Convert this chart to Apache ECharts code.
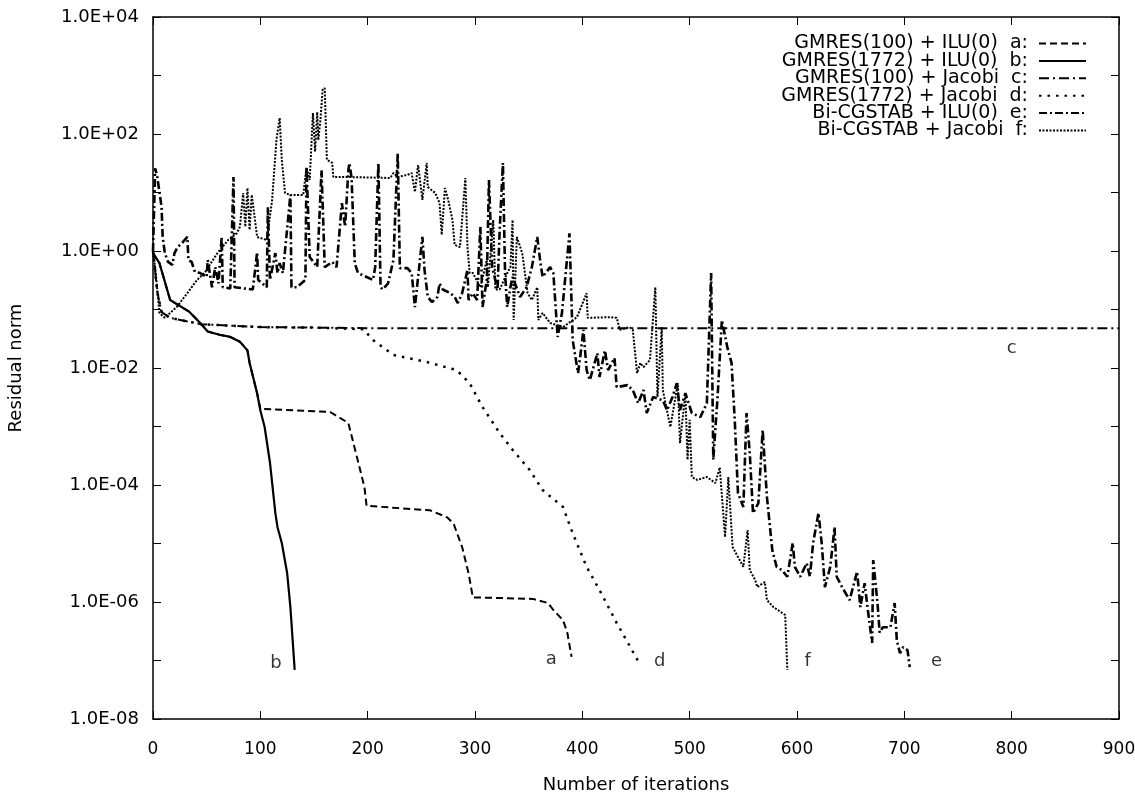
<!DOCTYPE html>
<html>
<head>
<meta charset="utf-8">
<script src="https://cdn.jsdelivr.net/npm/echarts@6/dist/echarts.min.js"></script>
<style>
  html, body { margin: 0; padding: 0; background: #fff; }
  #chart { width: 1135px; height: 799px; }
</style>
</head>
<body>
<div id="chart"></div>
<script>
// residual norm vs. iteration
const seriesNames = [
  'GMRES(100) + ILU(0)  a:',
  'GMRES(1772) + ILU(0)  b:',
  'GMRES(100) + Jacobi  c:',
  'GMRES(1772) + Jacobi  d:',
  'Bi-CGSTAB + ILU(0)  e:',
  'Bi-CGSTAB + Jacobi  f:'
]

// b: GMRES(1772) + ILU(0); a shares it until the restart at 100
const bData = [
  [0, 0.92], [6, 0.62], [16, 0.145], [34, 0.091], [44, 0.059], [51, 0.042],
  [62, 0.037], [72, 0.034], [81, 0.028], [88, 0.020], [90, 0.0122], [97, 0.0037],
  [100, 0.0019], [104, 9.8e-4], [109, 2.4e-4], [114, 3.3e-5], [116, 1.9e-5],
  [120, 1.02e-5], [125, 3.1e-6], [128, 8.2e-7], [132, 6.9e-8]
]
const aTail = [
  [100, 2.0e-3], [165, 1.77e-3], [182, 1.15e-3], [190, 3.0e-4], [197, 9.2e-5],
  [199, 4.4e-5], [258, 3.7e-5], [274, 2.8e-5], [280, 2.2e-5], [288, 8.7e-6],
  [294, 3.1e-6], [298, 1.2e-6], [323, 1.17e-6], [354, 1.13e-6], [368, 9.6e-7],
  [373, 7.3e-7], [382, 4.9e-7], [386, 3.0e-7], [390, 1.15e-7]
]
// c: GMRES(100) + Jacobi; d shares its start
const cData = [
  [0, 1.0], [4, 0.2], [8, 0.09], [16, 0.072], [45, 0.056], [100, 0.05],
  [200, 0.048], [900, 0.048]
]
const dTail = [
  [150, 0.049], [196, 0.046], [205, 0.030], [224, 0.0167], [255, 0.0127],
  [283, 0.0092], [295, 0.0055], [307, 0.00215], [323, 7.7e-4], [335, 4.0e-4],
  [351, 1.8e-4], [363, 8.2e-5], [382, 4.2e-5], [391, 1.5e-5], [404, 4.0e-6],
  [416, 1.6e-6], [432, 4.4e-7], [454, 8.4e-8]
]
// e: Bi-CGSTAB + ILU(0)
const eData = [
  [0, 1.0], [2, 26], [4, 18.4], [8, 5.6], [9, 1.74], [11, 0.92], [14, 0.65],
  [18, 0.58], [20, 0.92], [23, 1.17], [27, 1.37], [32, 1.74], [33, 0.70],
  [36, 0.65], [39, 0.44], [44, 0.42], [50, 0.36], [51, 0.70], [55, 0.24],
  [58, 0.53], [61, 0.28], [64, 1.74], [65, 0.24], [72, 0.23], [75, 18.4],
  [76, 0.24], [84, 0.23], [93, 0.22], [97, 0.95], [98, 0.32], [106, 0.24],
  [107, 5.6], [109, 0.32], [114, 0.92], [116, 0.42], [118, 0.62], [121, 0.42],
  [128, 9.1], [129, 0.24], [134, 0.24], [142, 0.32], [143, 27], [146, 0.79],
  [153, 0.53], [157, 24], [160, 0.53], [167, 0.65], [171, 0.53], [176, 6.6],
  [179, 2.6], [182, 24], [183, 32], [185, 17.7], [188, 0.62], [191, 0.42],
  [199, 0.36], [205, 0.32], [207, 0.53], [210, 32], [212, 0.24], [214, 0.22],
  [219, 0.28], [224, 0.70], [228, 47], [230, 0.51], [237, 0.51], [241, 0.42],
  [244, 0.11], [247, 0.36], [251, 1.74], [253, 0.47], [256, 0.164], [260, 0.134],
  [265, 0.164], [267, 0.28], [270, 0.22], [277, 0.19], [281, 0.164], [284, 0.129],
  [288, 0.19], [293, 0.47], [294, 0.145], [298, 0.19], [302, 0.145], [305, 2.6],
  [307, 0.11], [311, 0.32], [313, 16.4], [316, 0.53], [321, 0.22], [323, 2.3],
  [326, 32], [328, 0.42], [330, 0.11], [333, 0.24], [335, 0.36], [342, 0.164],
  [348, 0.24], [353, 0.53], [358, 1.74], [361, 0.62], [363, 0.36], [370, 0.53],
  [373, 0.42], [377, 0.034], [381, 0.087], [388, 2.0], [391, 0.030], [396, 0.0082],
  [398, 0.0154], [401, 0.045], [404, 0.0092], [407, 0.0062], [414, 0.018],
  [416, 0.007], [421, 0.02], [424, 0.0092], [430, 0.0148], [432, 0.0047],
  [442, 0.0051], [447, 0.0042], [452, 0.0025], [457, 0.0042], [460, 0.0017],
  [466, 0.0032], [475, 0.0028], [479, 0.0019], [484, 0.0032], [488, 0.0055],
  [491, 0.0019], [496, 0.0037], [502, 0.0017], [510, 0.00145], [516, 0.0025],
  [520, 0.42], [522, 2.7e-4], [526, 0.0032], [530, 0.066], [535, 0.023],
  [539, 0.0122], [542, 0.0013], [545, 7.3e-5], [550, 4.2e-5], [553, 0.0017],
  [556, 3.5e-4], [559, 3.3e-5], [564, 4.9e-5], [568, 8.7e-4], [572, 6.2e-5],
  [577, 7.7e-6], [581, 4.0e-6], [586, 3.5e-6], [591, 2.7e-6], [596, 1.02e-5],
  [598, 4.0e-6], [603, 2.7e-6], [609, 4.6e-6], [612, 2.7e-6], [615, 1.02e-5],
  [620, 3.3e-5], [623, 1.02e-5], [626, 1.8e-6], [631, 4.0e-6], [635, 1.9e-5],
  [637, 2.7e-6], [642, 1.8e-6], [649, 1.08e-6], [656, 3.3e-6], [659, 8.2e-7],
  [663, 2.1e-6], [666, 7.3e-7], [670, 2.0e-7], [671, 5.2e-6], [675, 9.6e-7],
  [677, 3.0e-7], [680, 3.7e-7], [687, 3.7e-7], [691, 9.6e-7], [693, 2.2e-7],
  [696, 1.34e-7], [699, 1.7e-7], [703, 1.5e-7], [705, 7.7e-8]
]
// f: Bi-CGSTAB + Jacobi
const fData = [
  [0, 0.95], [2, 0.53], [6, 0.087], [11, 0.072], [22, 0.11], [32, 0.19],
  [41, 0.32], [48, 0.42], [60, 0.92], [70, 1.54], [78, 2.0], [81, 2.6],
  [84, 9.8], [86, 2.6], [88, 11.9], [90, 2.3], [92, 9.1], [95, 3.4], [97, 1.74],
  [106, 1.54], [111, 7.5], [115, 79], [118, 188], [120, 36], [123, 9.8],
  [128, 9.1], [140, 9.1], [143, 27], [146, 16.4], [149, 228], [151, 50],
  [153, 238], [154, 79], [156, 174], [158, 565], [160, 611], [162, 36],
  [167, 32], [168, 18.4], [181, 18.4], [221, 17.7], [224, 21.5], [228, 18.4],
  [237, 20], [241, 21.5], [244, 10.2], [247, 29.5], [251, 7.5], [255, 32],
  [256, 12.4], [263, 9.8], [267, 6.6], [269, 1.9], [272, 11.9], [275, 7.5],
  [279, 3.4], [281, 1.27], [286, 1.17], [291, 17.7], [293, 1.17], [295, 0.42],
  [298, 0.42], [305, 0.24], [311, 0.70], [312, 0.24], [317, 3.4], [319, 0.22],
  [323, 0.22], [330, 0.42], [333, 0.53], [335, 3.4], [336, 0.066], [339, 1.74],
  [344, 0.92], [347, 0.36], [349, 0.19], [353, 0.145], [358, 0.24], [359, 0.066],
  [363, 0.087], [370, 0.059], [382, 0.05], [395, 0.074], [404, 0.19], [405, 0.072],
  [426, 0.074], [432, 0.072], [435, 0.045], [444, 0.05], [447, 0.045],
  [451, 0.0082], [454, 0.0122], [457, 0.0104], [463, 0.0137], [468, 0.24],
  [470, 0.0032], [474, 0.05], [475, 0.0042], [482, 0.00098], [489, 0.0055],
  [491, 5.2e-4], [496, 0.0037], [498, 2.7e-4], [500, 0.0013], [502, 1.37e-4],
  [507, 1.22e-4], [516, 1.37e-4], [524, 1.08e-4], [528, 2.0e-4], [533, 1.29e-5],
  [536, 1.37e-4], [540, 8.7e-6], [545, 5.9e-6], [550, 4.0e-6], [554, 1.7e-5],
  [556, 3.5e-6], [561, 2.4e-6], [563, 1.8e-6], [570, 2.2e-6], [572, 1.08e-6],
  [578, 8.2e-7], [589, 6.0e-7], [591, 6.9e-8]
]
// curve letters placed next to the curve ends
const curveLabels = [
  [114.6, 8.8e-8, 'b'], [371, 1.06e-7, 'a'], [472, 9.6e-8, 'd'],
  [610, 9.6e-8, 'f'], [730, 9.6e-8, 'e'], [800, 0.022, 'c']
]
const xTicks = [0, 100, 200, 300, 400, 500, 600, 700, 800, 900]

const aData = bData.filter(p => p[0] < 100).concat(aTail)
const dData = cData.filter(p => p[0] <= 100).concat(dTail)

const font = 'DejaVu Sans, Liberation Sans, sans-serif'

function expLabel(v) {
  const e = Math.round(Math.log10(v))
  if (e % 2 !== 0) return ''
  const s = Math.abs(e) < 10 ? '0' + Math.abs(e) : '' + Math.abs(e)
  return '1.0E' + (e < 0 ? '-' : '+') + s
}

const chart = echarts.init(document.getElementById('chart'))

const axisLine = { show: true, onZero: false, lineStyle: { color: '#000', width: 1.5 } }
const axisTick = { show: true, inside: true, length: 8, lineStyle: { color: '#000', width: 1 } }

function lineSeries(name, data, width, type) {
  return {
    name: name,
    type: 'line',
    data: data,
    showSymbol: false,
    symbol: 'none',
    animation: false,
    lineStyle: { color: '#000', width: width, type: type },
    itemStyle: { color: '#000' }
  }
}

chart.setOption({
  animation: false,
  backgroundColor: '#fff',
  grid: { left: 153, right: 16, top: 17, bottom: 80, outerBoundsMode: 'none', containLabel: false },
  legend: {
    orient: 'vertical',
    right: 43,
    top: 29,
    align: 'right',
    itemWidth: 47,
    itemHeight: 14,
    itemGap: -1.6,
    data: seriesNames,
    formatter: name => name + ' ',
    itemStyle: { color: 'rgba(0,0,0,0)', borderWidth: 0, opacity: 0 },
    textStyle: { fontFamily: font, fontSize: 19, color: '#000' }
  },
  xAxis: [
    {
      type: 'value', min: xTicks[0], max: xTicks[xTicks.length - 1], interval: 100,
      name: 'Number of iterations', nameLocation: 'middle', nameGap: 57,
      nameTextStyle: { fontFamily: font, fontSize: 18, color: '#000' },
      axisLine: axisLine, axisTick: axisTick, splitLine: { show: false },
      axisLabel: { fontFamily: font, fontSize: 17, color: '#000', margin: 22 }
    },
    {
      type: 'value', position: 'top', min: xTicks[0], max: xTicks[xTicks.length - 1], interval: 100,
      axisLine: axisLine, axisTick: axisTick, splitLine: { show: false },
      axisLabel: { show: false }
    }
  ],
  yAxis: [
    {
      type: 'log', logBase: 10, min: 1e-8, max: 1e4, interval: 1,
      name: 'Residual norm', nameLocation: 'middle', nameGap: 128,
      nameTextStyle: { fontFamily: font, fontSize: 18, color: '#000' },
      axisLine: axisLine, axisTick: axisTick, splitLine: { show: false },
      axisLabel: { fontFamily: font, fontSize: 18, color: '#000', margin: 14, formatter: expLabel }
    },
    {
      type: 'log', logBase: 10, min: 1e-8, max: 1e4, interval: 1, position: 'right',
      axisLine: axisLine, axisTick: axisTick, splitLine: { show: false },
      axisLabel: { show: false }
    }
  ],
  series: [
    lineSeries(seriesNames[0], aData, 2, [7, 4]),
    lineSeries(seriesNames[1], bData, 2.2, 'solid'),
    lineSeries(seriesNames[2], cData, 2, [10, 4, 2, 4]),
    lineSeries(seriesNames[3], dData, 2.5, [2.5, 6]),
    lineSeries(seriesNames[4], eData, 2.6, [8, 3, 2, 3]),
    lineSeries(seriesNames[5], fData, 2, [2, 1.5]),
    {
      type: 'scatter',
      symbolSize: 1,
      itemStyle: { color: 'rgba(0,0,0,0)' },
      data: curveLabels.map(l => ({ value: [l[0], l[1]], name: l[2] })),
      label: {
        show: true, position: 'inside', formatter: p => p.name,
        fontFamily: font, fontSize: 18, color: '#000'
      },
      silent: true
    }
  ]
})
</script>
</body>
</html>
